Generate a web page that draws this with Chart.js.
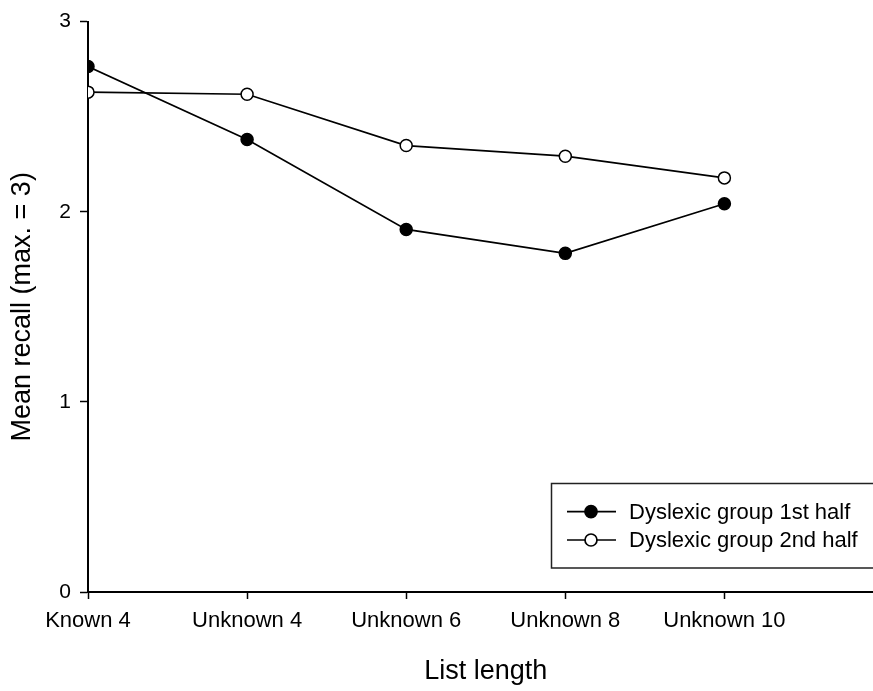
<!DOCTYPE html>
<html>
<head>
<meta charset="utf-8">
<script src="https://cdn.jsdelivr.net/npm/chart.js@4"></script>
<style>
html,body{margin:0;padding:0;background:#fff;overflow:hidden;}
#wrap{width:873px;height:691px;position:relative;overflow:hidden;}
</style>
</head>
<body>
<div id="wrap"><canvas id="c" width="891" height="691"></canvas></div>
<script>
const categories = ["Known 4", "Unknown 4", "Unknown 6", "Unknown 8", "Unknown 10"];
const firstHalf = [2.764, 2.380, 1.907, 1.781, 2.042];
const secondHalf = [2.629, 2.618, 2.348, 2.292, 2.178];
const yTicks = [0, 1, 2, 3];
const seriesLabels = ["Dyslexic group 1st half", "Dyslexic group 2nd half"];

const FONT = "'Liberation Sans', Arial, Helvetica, sans-serif";

const legendBox = {
  id: 'legendBox',
  afterDraw(chart) {
    const ctx = chart.ctx;
    ctx.save();
    ctx.strokeStyle = '#222';
    ctx.lineWidth = 1.5;
    ctx.beginPath();
    ctx.moveTo(900, 483.5);
    ctx.lineTo(551.5, 483.5);
    ctx.lineTo(551.5, 568);
    ctx.lineTo(900, 568);
    ctx.stroke();
    const rows = [511.7, 540];
    chart.data.datasets.forEach((ds, i) => {
      const y = rows[i];
      ctx.beginPath();
      ctx.strokeStyle = '#000';
      ctx.lineWidth = 1.7;
      ctx.moveTo(567, y);
      ctx.lineTo(616, y);
      ctx.stroke();
      ctx.beginPath();
      ctx.arc(591, y, 6, 0, Math.PI * 2);
      ctx.fillStyle = ds.pointBackgroundColor;
      ctx.fill();
      ctx.stroke();
      ctx.fillStyle = '#000';
      ctx.font = '22px ' + FONT;
      ctx.textBaseline = 'middle';
      ctx.textAlign = 'left';
      ctx.fillText(ds.label, 629, y + 1);
    });
    ctx.restore();
  }
};

new Chart(document.getElementById('c'), {
  type: 'line',
  data: {
    datasets: [
      {
        label: seriesLabels[0],
        data: firstHalf.map((v, i) => ({x: i, y: v})),
        borderColor: '#000',
        borderWidth: 1.7,
        pointRadius: 6,
        pointBackgroundColor: '#000',
        pointBorderColor: '#000',
        pointBorderWidth: 1.5,
        tension: 0
      },
      {
        label: seriesLabels[1],
        data: secondHalf.map((v, i) => ({x: i, y: v})),
        borderColor: '#000',
        borderWidth: 1.7,
        pointRadius: 6,
        pointBackgroundColor: '#fff',
        pointBorderColor: '#000',
        pointBorderWidth: 1.5,
        tension: 0
      }
    ]
  },
  options: {
    responsive: false,
    animation: false,
    layout: {padding: {top: 20, right: 0, left: 0, bottom: 0}},
    plugins: {legend: {display: false}, tooltip: {enabled: false}},
    scales: {
      x: {
        type: 'linear',
        min: 0,
        max: 5,
        afterBuildTicks(scale) { scale.ticks = categories.map((c, i) => ({value: i})); },
        afterFit(scale) { scale.height = 99; },
        ticks: {
          callback: (v) => categories[v],
          color: '#000',
          font: {family: FONT, size: 22},
          padding: 9,
          maxRotation: 0,
          autoSkip: false
        },
        grid: {drawOnChartArea: false, tickLength: 7, tickColor: '#000', tickWidth: 1.5},
        border: {color: '#000', width: 2},
        title: {display: true, text: 'List length', color: '#000', font: {family: FONT, size: 27}, padding: {top: 0, bottom: 3}}
      },
      y: {
        min: 0,
        max: 3,
        afterBuildTicks(scale) { scale.ticks = yTicks.map(v => ({value: v})); },
        afterFit(scale) { scale.width = 88; },
        ticks: {
          color: '#000',
          font: {family: FONT, size: 21},
          padding: 9
        },
        grid: {drawOnChartArea: false, tickLength: 8, tickColor: '#000', tickWidth: 1.5},
        border: {color: '#000', width: 2},
        title: {display: true, text: 'Mean recall (max. = 3)', color: '#000', font: {family: FONT, size: 27}, padding: {top: 6, bottom: 0}}
      }
    }
  },
  plugins: [legendBox]
});
</script>
</body>
</html>
